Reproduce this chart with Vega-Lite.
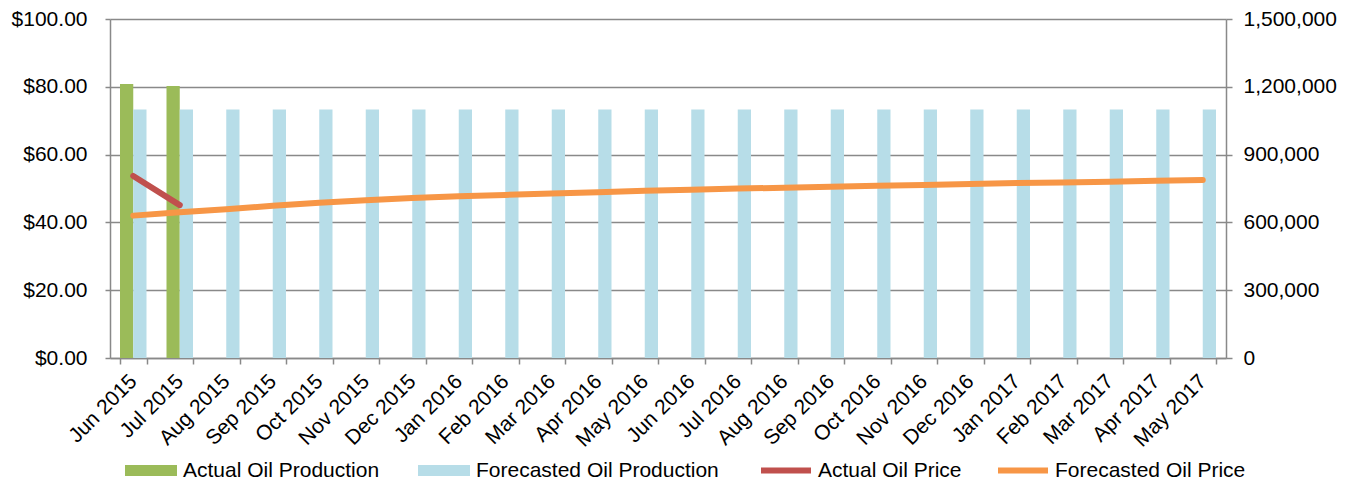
{
  "$schema": "https://vega.github.io/schema/vega-lite/v6.json",
  "width": 1116,
  "height": 339,
  "autosize": {"type": "none"},
  "padding": {"left": 110, "top": 19, "right": 125, "bottom": 122},
  "config": {
    "view": {"stroke": null},
    "font": "Liberation Sans",
    "axis": {
      "labelFont": "Liberation Sans",
      "labelColor": "#000000",
      "domainColor": "#898989",
      "tickColor": "#898989",
      "gridColor": "#898989",
      "domainWidth": 1.5,
      "tickWidth": 1.5,
      "gridWidth": 1.5
    },
    "legend": {"labelFont": "Liberation Sans", "labelColor": "#000000"}
  },
  "datasets": {
    "production": [
      {"month": "Jun 2015", "series": "Actual Oil Production", "value": 1212000},
      {"month": "Jul 2015", "series": "Actual Oil Production", "value": 1203000},
      {"month": "Jun 2015", "series": "Forecasted Oil Production", "value": 1100000},
      {"month": "Jul 2015", "series": "Forecasted Oil Production", "value": 1100000},
      {"month": "Aug 2015", "series": "Forecasted Oil Production", "value": 1100000},
      {"month": "Sep 2015", "series": "Forecasted Oil Production", "value": 1100000},
      {"month": "Oct 2015", "series": "Forecasted Oil Production", "value": 1100000},
      {"month": "Nov 2015", "series": "Forecasted Oil Production", "value": 1100000},
      {"month": "Dec 2015", "series": "Forecasted Oil Production", "value": 1100000},
      {"month": "Jan 2016", "series": "Forecasted Oil Production", "value": 1100000},
      {"month": "Feb 2016", "series": "Forecasted Oil Production", "value": 1100000},
      {"month": "Mar 2016", "series": "Forecasted Oil Production", "value": 1100000},
      {"month": "Apr 2016", "series": "Forecasted Oil Production", "value": 1100000},
      {"month": "May 2016", "series": "Forecasted Oil Production", "value": 1100000},
      {"month": "Jun 2016", "series": "Forecasted Oil Production", "value": 1100000},
      {"month": "Jul 2016", "series": "Forecasted Oil Production", "value": 1100000},
      {"month": "Aug 2016", "series": "Forecasted Oil Production", "value": 1100000},
      {"month": "Sep 2016", "series": "Forecasted Oil Production", "value": 1100000},
      {"month": "Oct 2016", "series": "Forecasted Oil Production", "value": 1100000},
      {"month": "Nov 2016", "series": "Forecasted Oil Production", "value": 1100000},
      {"month": "Dec 2016", "series": "Forecasted Oil Production", "value": 1100000},
      {"month": "Jan 2017", "series": "Forecasted Oil Production", "value": 1100000},
      {"month": "Feb 2017", "series": "Forecasted Oil Production", "value": 1100000},
      {"month": "Mar 2017", "series": "Forecasted Oil Production", "value": 1100000},
      {"month": "Apr 2017", "series": "Forecasted Oil Production", "value": 1100000},
      {"month": "May 2017", "series": "Forecasted Oil Production", "value": 1100000}
    ],
    "price": [
      {"month": "Jun 2015", "series": "Actual Oil Price", "value": 53.7},
      {"month": "Jul 2015", "series": "Actual Oil Price", "value": 45.1},
      {"month": "Jun 2015", "series": "Forecasted Oil Price", "value": 42.0},
      {"month": "Jul 2015", "series": "Forecasted Oil Price", "value": 43.0},
      {"month": "Aug 2015", "series": "Forecasted Oil Price", "value": 43.9},
      {"month": "Sep 2015", "series": "Forecasted Oil Price", "value": 44.9},
      {"month": "Oct 2015", "series": "Forecasted Oil Price", "value": 45.8},
      {"month": "Nov 2015", "series": "Forecasted Oil Price", "value": 46.5},
      {"month": "Dec 2015", "series": "Forecasted Oil Price", "value": 47.2},
      {"month": "Jan 2016", "series": "Forecasted Oil Price", "value": 47.7},
      {"month": "Feb 2016", "series": "Forecasted Oil Price", "value": 48.1},
      {"month": "Mar 2016", "series": "Forecasted Oil Price", "value": 48.5},
      {"month": "Apr 2016", "series": "Forecasted Oil Price", "value": 48.9},
      {"month": "May 2016", "series": "Forecasted Oil Price", "value": 49.3},
      {"month": "Jun 2016", "series": "Forecasted Oil Price", "value": 49.6},
      {"month": "Jul 2016", "series": "Forecasted Oil Price", "value": 50.0},
      {"month": "Aug 2016", "series": "Forecasted Oil Price", "value": 50.2},
      {"month": "Sep 2016", "series": "Forecasted Oil Price", "value": 50.5},
      {"month": "Oct 2016", "series": "Forecasted Oil Price", "value": 50.8},
      {"month": "Nov 2016", "series": "Forecasted Oil Price", "value": 51.0},
      {"month": "Dec 2016", "series": "Forecasted Oil Price", "value": 51.3},
      {"month": "Jan 2017", "series": "Forecasted Oil Price", "value": 51.6},
      {"month": "Feb 2017", "series": "Forecasted Oil Price", "value": 51.8},
      {"month": "Mar 2017", "series": "Forecasted Oil Price", "value": 52.0},
      {"month": "Apr 2017", "series": "Forecasted Oil Price", "value": 52.3},
      {"month": "May 2017", "series": "Forecasted Oil Price", "value": 52.5}
    ]
  },
  "layer": [
    {
      "data": {"name": "production"},
      "mark": {"type": "bar", "strokeWidth": 0},
      "encoding": {
        "x": {
          "field": "month",
          "type": "nominal",
          "scale": {
            "domain": ["Jun 2015", "Jul 2015", "Aug 2015", "Sep 2015", "Oct 2015", "Nov 2015", "Dec 2015", "Jan 2016", "Feb 2016", "Mar 2016", "Apr 2016", "May 2016", "Jun 2016", "Jul 2016", "Aug 2016", "Sep 2016", "Oct 2016", "Nov 2016", "Dec 2016", "Jan 2017", "Feb 2017", "Mar 2017", "Apr 2017", "May 2017"],
            "paddingInner": 0.43,
            "paddingOuter": 0.215
          },
          "axis": {
            "title": null,
            "labelAngle": -45,
            "labelAlign": "right",
            "labelBaseline": "middle",
            "labelFontSize": 21,
            "labelOverlap": false,
            "tickBand": "extent",
            "tickSize": 6,
            "labelPadding": 14,
            "grid": false
          }
        },
        "xOffset": {
          "field": "series",
          "type": "nominal",
          "scale": {"domain": ["Actual Oil Production", "Forecasted Oil Production"], "paddingInner": 0, "paddingOuter": 0}
        },
        "y": {
          "field": "value",
          "type": "quantitative",
          "scale": {"domain": [0, 1500000], "nice": false},
          "axis": {
            "orient": "right",
            "title": null,
            "values": [0, 300000, 600000, 900000, 1200000, 1500000],
            "format": ",d",
            "labelFontSize": 21,
            "tickSize": 6,
            "labelPadding": 11,
            "grid": false
          }
        },
        "fill": {
          "field": "series",
          "type": "nominal",
          "scale": {"domain": ["Actual Oil Production", "Forecasted Oil Production"], "range": ["#9BBB59", "#B7DDE8"]},
          "legend": {
            "title": null,
            "orient": "none",
            "legendX": 15,
            "legendY": 425.5,
            "direction": "horizontal",
            "symbolType": "M-1,-0.21H1V0.21H-1Z",
            "symbolSize": 2704,
            "symbolStrokeWidth": 0,
            "symbolOpacity": 1,
            "labelFontSize": 21,
            "labelOffset": 6,
            "columnPadding": 38,
            "labelLimit": 400
          }
        }
      }
    },
    {
      "data": {"name": "price"},
      "mark": {"type": "line", "strokeWidth": 6, "strokeCap": "round", "strokeJoin": "round"},
      "encoding": {
        "x": {"field": "month", "type": "nominal"},
        "y": {
          "field": "value",
          "type": "quantitative",
          "scale": {"domain": [0, 100], "nice": false},
          "axis": {
            "orient": "left",
            "title": null,
            "values": [0, 20, 40, 60, 80, 100],
            "format": "$,.2f",
            "labelFontSize": 21,
            "tickSize": 5,
            "labelPadding": 18,
            "grid": true
          }
        },
        "stroke": {
          "field": "series",
          "type": "nominal",
          "scale": {"domain": ["Actual Oil Price", "Forecasted Oil Price"], "range": ["#C0504D", "#F79646"]},
          "legend": {
            "title": null,
            "orient": "none",
            "legendX": 648,
            "legendY": 423.5,
            "direction": "horizontal",
            "symbolType": "stroke",
            "symbolSize": 2500,
            "symbolStrokeWidth": 6,
            "labelFontSize": 21,
            "labelOffset": 4,
            "columnPadding": 24,
            "labelLimit": 400
          }
        }
      }
    }
  ],
  "resolve": {"scale": {"y": "independent"}}
}
